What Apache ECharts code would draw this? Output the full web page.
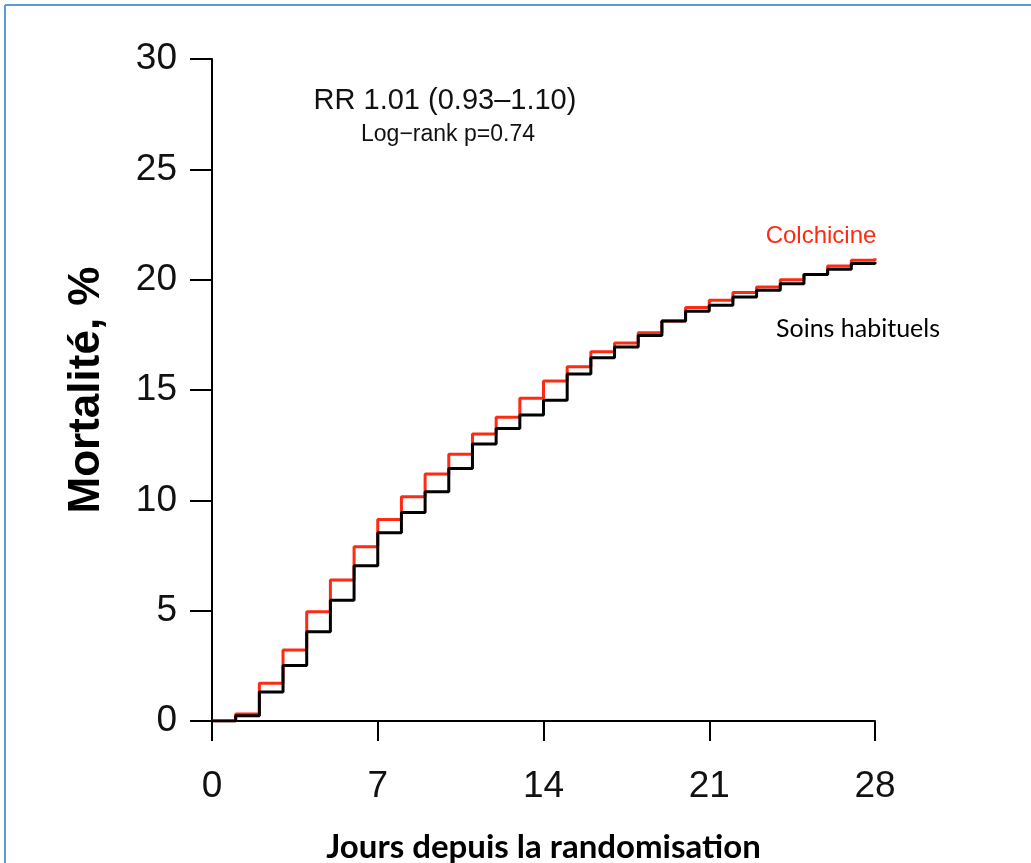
<!DOCTYPE html>
<html>
<head>
<meta charset="utf-8">
<script src="https://cdn.jsdelivr.net/npm/echarts@6/dist/echarts.min.js"></script>
<style>
html,body{margin:0;padding:0;background:#fff}
#main{width:1031px;height:863px}
</style>
</head>
<body>
<div id="main"></div>
<script>
// jours depuis la randomisation
const days = [0,1,2,3,4,5,6,7,8,9,10,11,12,13,14,15,16,17,18,19,20,21,22,23,24,25,26,27,28];
// mortalité cumulée, %
const colchicine = [0,0.32,1.71,3.22,4.95,6.39,7.9,9.13,10.16,11.19,12.09,13.01,13.77,14.63,15.41,16.05,16.73,17.13,17.6,18.13,18.74,19.07,19.42,19.67,20.0,20.23,20.62,20.88,20.97];
const soinsHabituels = [0,0.24,1.31,2.52,4.05,5.47,7.03,8.53,9.45,10.39,11.44,12.55,13.26,13.87,14.54,15.72,16.46,16.95,17.47,18.13,18.57,18.84,19.22,19.52,19.82,20.23,20.47,20.73,20.8];
const xTicks = [0,7,14,21,28];
const yTicks = [0,5,10,15,20,25,30];

const chart = echarts.init(document.getElementById('main'));

const axisFont = 'Liberation Sans, Arial, sans-serif';

const option = {
    animation: false,
    backgroundColor: '#fff',
    grid: {left: 212, right: 156, top: 59, bottom: 142, containLabel: false, outerBoundsMode: 'none'},
    xAxis: {
        type: 'value',
        min: xTicks[0],
        max: xTicks[xTicks.length - 1],
        interval: xTicks[1] - xTicks[0],
        axisLine: {show: true, onZero: false, lineStyle: {color: '#000', width: 2}},
        axisTick: {show: true, length: 20, lineStyle: {color: '#000', width: 2}},
        axisLabel: {fontSize: 37, color: '#111', margin: 47, fontFamily: axisFont},
        splitLine: {show: false},
        name: 'Jours depuis la randomisation',
        nameLocation: 'middle',
        nameGap: 110,
        nameTextStyle: {fontFamily: 'Lato', fontWeight: 'bold', fontSize: 33, color: '#000'}
    },
    yAxis: {
        type: 'value',
        min: yTicks[0],
        max: yTicks[yTicks.length - 1],
        interval: yTicks[1] - yTicks[0],
        axisLine: {show: true, lineStyle: {color: '#000', width: 2}},
        axisTick: {show: true, length: 22, lineStyle: {color: '#000', width: 2}},
        axisLabel: {fontSize: 37, color: '#111', margin: 35, fontFamily: axisFont},
        splitLine: {show: false},
        name: 'Mortalité, %',
        nameLocation: 'middle',
        nameGap: 103,
        nameTextStyle: {fontFamily: axisFont, fontWeight: 'bold', fontSize: 44, color: '#000'}
    },
    series: [
        {
            name: 'Colchicine',
            type: 'line',
            step: 'end',
            symbol: 'none',
            data: days.map((d, i) => [d, colchicine[i]]),
            lineStyle: {color: '#ff2a12', width: 3},
            z: 2
        },
        {
            name: 'Soins habituels',
            type: 'line',
            step: 'end',
            symbol: 'none',
            data: days.map((d, i) => [d, soinsHabituels[i]]),
            lineStyle: {color: '#000', width: 3},
            z: 3
        }
    ],
    graphic: [
        // cadre bleu
        {type: 'line', shape: {x1: 5, y1: 5, x2: 1031, y2: 5}, style: {stroke: '#5b9bd5', lineWidth: 2}},
        {type: 'line', shape: {x1: 5, y1: 5, x2: 5, y2: 863}, style: {stroke: '#5b9bd5', lineWidth: 2}},
        {type: 'text', x: 445, y: 101, style: {text: 'RR 1.01 (0.93–1.10)', font: '29px Liberation Sans', fill: '#111', textAlign: 'center', textVerticalAlign: 'middle'}},
        {type: 'text', x: 448, y: 135, style: {text: 'Log−rank p=0.74', font: '23px Liberation Sans', fill: '#111', textAlign: 'center', textVerticalAlign: 'middle'}},
        {type: 'text', x: 821, y: 236, style: {text: 'Colchicine', font: '24px Liberation Sans', fill: '#ff2a12', textAlign: 'center', textVerticalAlign: 'middle'}},
        {type: 'text', x: 858, y: 329, style: {text: 'Soins habituels', font: '25px Lato', fill: '#000', textAlign: 'center', textVerticalAlign: 'middle'}}
    ]
};

chart.setOption(option);
</script>
</body>
</html>
